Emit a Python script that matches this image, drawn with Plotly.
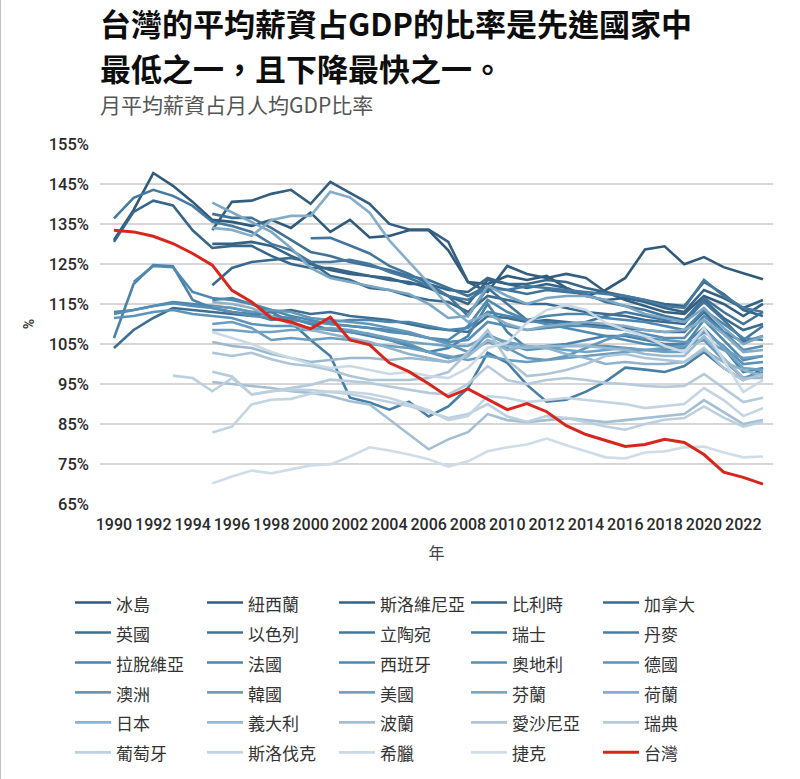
import plotly.graph_objects as go

years = list(range(1990, 2024))
N = None

names = ["冰島", "紐西蘭", "斯洛維尼亞", "比利時", "加拿大",
         "英國", "以色列", "立陶宛", "瑞士", "丹麥",
         "拉脫維亞", "法國", "西班牙", "奧地利", "德國",
         "澳洲", "韓國", "美國", "芬蘭", "荷蘭",
         "日本", "義大利", "波蘭", "愛沙尼亞", "瑞典",
         "葡萄牙", "斯洛伐克", "希臘", "捷克", "台灣"]

colors = ["#2f5a7b", "#335e80", "#366285", "#386689", "#3a6a8e",
          "#3d6e93", "#3f7297", "#42769c", "#4479a0", "#477ea5",
          "#4a82a9", "#4d86ad", "#5089b0", "#568eb4", "#5c93b8",
          "#6398bb", "#6a9dbe", "#72a2c1", "#7ba7c5", "#85adc9",
          "#8fb3cc", "#99b9d0", "#a3bfd4", "#adc5d8", "#b5cbdc",
          "#bcd0df", "#c3d5e2", "#c9d9e5", "#cedde8", "#d9261c"]

# values (%), 1990..2023
iceland = [131, 138.5, 147.7, 144.5, 140.5, 136, 135.5, 134.5, 136, 134, 137.8, 133, 136, 131.6, 132, 133.4, 133.4, 128.4, 120.5, 120, 122, 121, 122, 119, 117, 118.5, 121.5, 128.6, 129.4, 124.9, 126.7, 124.2, 122.7, 121.2]
new_zealand = [N, N, N, N, N, 133.5, 140.5, 140.8, 142.5, 143.5, 140, 145.5, 142.8, 140, 135, 133.6, 133.6, 130.5, 120.5, 118, 124.5, 122.5, 121.5, 122.5, 121.5, 118, 116, 114.5, 113, 112.5, 117, 115, 112, 115]
slovenia = [N, N, N, N, N, 130, 130, 130.5, 129.5, 127, 125, 123.5, 122.5, 122, 121, 120.5, 119, 117, 115, 121, 120, 119, 120, 119, 117, 116, 116.5, 115.5, 114, 113, 118.5, 116.5, 114, 116]
belgium = [130.5, 138, 140.8, 139.6, 133.4, 129, 129.5, 129.5, 127, 125, 124, 124, 123, 122, 121.5, 120, 120, 118.5, 118, 121.5, 120, 120, 121, 120.5, 119, 118, 117, 116, 115, 114.5, 120.5, 117.5, 113.5, 112]
canada = [N, N, N, N, N, 119.7, 124, 125.5, 126, 126.5, 125.5, 122, 121, 119, 118.5, 117, 116, 115.5, 113, 117, 116, 115, 115, 114, 113, 112.5, 112, 111, 110.5, 110, 116, 111.5, 108.5, 110]
uk = [104, 108.5, 111.5, 114, 113.5, 113, 112.5, 112, 113, 113.5, 112.5, 113, 112, 111.5, 111, 110, 109, 108.5, 108, 112, 111.5, 110.5, 111, 110.5, 110, 109.5, 109, 108.5, 108, 108, 113, 108, 105.5, 107]
israel = [N, N, N, N, N, 137.5, 136.5, 136.5, 134, 131, 128, 127, 125.5, 124.5, 123.5, 122, 121, 119, 117, 119.5, 118.5, 117.5, 118.5, 118, 117.5, 115.5, 114.5, 113.5, 112, 111, 116.5, 113, 110, 113]
lithuania = [N, N, N, N, N, N, N, N, N, N, 131.4, 131.5, 129.6, 127.6, 124.5, 122.5, 120, 117, 112, 119, 115, 111, 110.5, 110, 110.5, 112, 113, 112, 111, 111, 115.5, 111, 106, 109.5]
switzerland = [136.4, 141.5, 143.5, 142, 139.5, 135.5, 134.5, 133, 130, 128.5, 125.5, 125.5, 126, 125, 123, 121.5, 119.5, 117, 116, 119, 118.5, 119.5, 119, 118.5, 118, 117.5, 117, 116, 114.5, 114, 121, 117, 114, 113]
denmark = [N, N, N, N, N, 116, 116.5, 115, 113, 110.5, 106, 102, 91.6, 90.4, 88.6, 90.6, 86.9, 89.4, 94, 102.8, 100.3, 94.8, 90.6, 91.1, 93.1, 95.6, 99.1, 98.6, 98, 99.5, 103, 99, 96, 99]
latvia = [106.5, 120, 124.7, 124.4, 116, 114, 113, 112.5, 111, 111.5, 110, 108.5, 108, 107, 106, 104.5, 103, 104, 107, 115, 108, 104, 104.5, 105, 106, 107, 107, 106, 105, 105, 109, 104, 98, 99]
france = [113, 113.5, 114.5, 115.5, 115, 114.5, 114, 113, 112, 111.5, 110, 110.5, 111, 111, 110.5, 110.5, 109.5, 108.5, 109, 113, 112, 111, 112, 112.5, 112.5, 111.5, 111, 110.5, 109.5, 108.5, 113.5, 110, 106.5, 106]
spain = [N, 120.5, 124.5, 124.2, 118, 116.5, 116, 115, 113.5, 112, 111, 110, 109.5, 109, 108.5, 107.5, 106.5, 106, 109.5, 116, 113, 111, 110, 109, 108, 107, 106, 105, 104.5, 104.5, 111, 106, 101, 102]
austria = [112.5, 113.5, 114.5, 115.2, 114.5, 114, 113, 112, 111.5, 111, 110.5, 110, 109.5, 109, 108, 107.5, 106.5, 105.5, 106, 110.5, 109.5, 108.5, 109, 109.5, 109.5, 109, 108.5, 107.5, 106.5, 106.5, 112, 108, 103.5, 104.5]
germany = [111.5, 112, 113, 113.5, 112.5, 112, 111.5, 110, 109.5, 109.5, 109, 108.5, 108, 107.5, 106, 105, 103, 101.5, 102.5, 107.5, 105, 103.5, 104, 104.5, 104.5, 104.5, 104, 103.5, 103.5, 104, 108, 104.5, 100, 100.5]
australia = [N, N, N, N, N, 114.5, 114, 113, 113.5, 113, 111.5, 111, 110.5, 110, 109, 108, 106.5, 105, 103, 105.5, 104, 101.5, 101, 102, 104, 106, 107.5, 106.5, 106, 105.5, 106, 101, 96.5, 98]
korea = [N, N, N, N, N, 110, 110.5, 109, 106, 106.5, 106, 106.5, 106, 105, 104.5, 104, 103, 102, 101, 102, 101, 100.5, 101, 101.5, 102, 102.5, 103, 103.5, 104, 104.5, 106, 103.5, 101.5, 102]
usa = [N, N, N, N, N, 108.5, 108.5, 108, 108, 108.5, 108.5, 109, 108.5, 107.5, 106.5, 105.5, 105, 104.5, 104.5, 107, 105.5, 104.5, 104, 103.5, 103, 103.5, 104, 103.5, 103, 103, 108.5, 104, 99, 98.5]
finland = [N, N, N, N, N, 140.3, 137.8, 135.4, 133, 129, 124, 121.5, 120.5, 119.5, 118.5, 117.5, 115, 111.5, 112, 119.5, 117, 115, 116.5, 117, 117, 116, 114.5, 112.5, 111.5, 110.5, 114, 109, 105, 107]
netherlands = [N, N, N, N, N, 134, 133.5, 132, 136, 137, 137, 143, 141.6, 137.8, 130.9, 125.5, 120.2, 114.5, 110.5, 112.5, 110, 108.5, 109.5, 110, 110.5, 110, 109.5, 108.5, 108, 108.5, 111, 107.5, 103, 103.5]
japan = [N, N, N, N, N, 115.5, 115, 114, 112, 110, 108.5, 107.5, 106.5, 105.5, 104, 102.5, 101.5, 100.5, 102, 106, 103.5, 104.5, 104, 102.5, 101.5, 100, 100.5, 100, 100, 100.5, 103.5, 100.5, 98.5, 97]
italy = [N, N, N, N, N, 105.5, 104.5, 104, 102.5, 101.5, 100.5, 101, 101.5, 101.5, 101, 101.5, 101, 100.5, 102, 106, 104.5, 104, 104.5, 104.5, 104.5, 104, 103.5, 102.5, 102, 102, 107, 101.5, 96.5, 96.5]
poland = [N, N, N, N, N, 95.5, 95, 94.5, 94, 93.2, 92.8, 92, 90.7, 89.9, 86.1, 82.4, 78.7, 81.2, 83, 87.5, 86, 85.5, 86, 86.5, 86, 85.5, 86, 86.5, 87, 87.5, 91, 88, 85, 86]
estonia = [N, N, N, N, N, 102.8, 102, 102.8, 101.2, 100, 99.5, 98.5, 97, 96, 96, 96, 96.5, 98, 103, 108.5, 101, 97, 97.5, 98.5, 100, 102, 102.5, 101.5, 101, 100.5, 104, 99, 96, 97.5]
sweden = [N, N, N, N, N, 98.1, 96.9, 92.4, 93.2, 94, 94.8, 96.1, 95.7, 95.3, 94.4, 93.6, 92.8, 92.4, 95, 99.5, 96, 95, 96, 96.5, 96, 95.3, 95, 94.5, 94.3, 94.5, 97.5, 94, 90.5, 91.6]
portugal = [N, N, N, 97.1, 96.5, 93.2, 96.5, 92.4, 93.2, 93.6, 93.5, 93, 92.5, 91.5, 90.5, 89.5, 88, 86.5, 87.5, 90, 86.9, 85.6, 87, 86.5, 85.5, 84.4, 83.6, 85, 86.1, 86.5, 89.4, 86.6, 84.4, 85.6]
slovakia = [N, N, N, N, N, 82.9, 84.4, 89.9, 91.1, 91.3, 92.6, 93.1, 93, 92.5, 91.5, 90, 88.5, 86, 87, 92, 91.5, 90.5, 91, 91.5, 91, 90.5, 90, 89, 89.5, 90, 94, 91, 87, 89]
greece = [N, N, N, N, N, 108, 106.5, 105, 103, 101.5, 100, 99, 99.5, 98.5, 97.5, 98, 97, 96.5, 99, 104, 105.3, 110.3, 113.5, 114.7, 113.5, 110.3, 108.5, 107, 104.5, 103, 109, 101, 93, 96]
czechia = [N, N, N, N, N, 70.2, 71.9, 73.4, 72.7, 73.7, 74.7, 74.9, 76.9, 79.2, 78.4, 77.4, 76.2, 74.4, 75.7, 78.2, 79.2, 79.9, 81.4, 79.7, 78.2, 76.7, 76.4, 77.9, 78.2, 79.2, 79.4, 77.9, 76.7, 76.9]
taiwan = [133.4, 133, 131.9, 130.1, 127.6, 124.7, 118.4, 115.5, 111.5, 110.5, 108.8, 111.7, 106, 104.8, 100.3, 98.1, 95.1, 91.8, 93.8, 91.3, 88.6, 90.1, 88.1, 84.6, 82.4, 80.9, 79.4, 79.9, 81.2, 80.4, 77.4, 73.0, 71.7, 70.0]

series = [iceland, new_zealand, slovenia, belgium, canada,
          uk, israel, lithuania, switzerland, denmark,
          latvia, france, spain, austria, germany,
          australia, korea, usa, finland, netherlands,
          japan, italy, poland, estonia, sweden,
          portugal, slovakia, greece, czechia, taiwan]

y_ticks = [65, 75, 85, 95, 105, 115, 125, 135, 145, 155]
x_ticks = list(range(1990, 2023, 2))

title_line1 = "台灣的平均薪資占GDP的比率是先進國家中"
title_line2 = "最低之一，且下降最快之一。"
subtitle = "月平均薪資占月人均GDP比率"

CJK = "Noto Sans CJK TC"
NUM = "Roboto"

fig = go.Figure()
for name, vals, col in zip(names, series, colors):
    fig.add_trace(go.Scatter(
        x=years, y=vals, mode="lines",
        name='<span style="font-size:17px">' + name + "</span>",
        line=dict(color=col, width=3.0 if name == "台灣" else 2.6),
        connectgaps=False,
    ))

fig.update_layout(
    width=800, height=779,
    margin=dict(l=100, r=27, t=143, b=274, autoexpand=False),
    paper_bgcolor="white", plot_bgcolor="white",
    showlegend=True,
    legend=dict(
        orientation="h", xref="container", yref="container",
        x=0.0875, xanchor="left", y=1 - 582.5 / 779, yanchor="top",
        font=dict(family=CJK, size=20.75, color="#333333"),
        entrywidth=81, entrywidthmode="pixels",
        itemwidth=36, tracegroupgap=0,
        bgcolor="rgba(0,0,0,0)",
    ),
    annotations=[
        dict(text="<b>" + title_line1 + "</b>", xref="paper", yref="paper",
             x=-0.003, y=1 + (143 - 22) / 362, xanchor="left", yanchor="middle",
             showarrow=False, font=dict(family=CJK, size=31, color="#0d0d0d")),
        dict(text="<b>" + title_line2 + "</b>", xref="paper", yref="paper",
             x=-0.003, y=1 + (143 - 67) / 362, xanchor="left", yanchor="middle",
             showarrow=False, font=dict(family=CJK, size=31, color="#0d0d0d")),
        dict(text=subtitle, xref="paper", yref="paper",
             x=-0.003, y=1 + (143 - 104) / 362, xanchor="left", yanchor="middle",
             showarrow=False, font=dict(family=CJK, size=21, color="#555555")),
    ],
    shapes=[
        dict(type="line", xref="paper", yref="paper",
             x0=-100.5 / 673, x1=-100.5 / 673, y0=-274 / 362, y1=1 + 143 / 362,
             line=dict(color="#8a8a8a", width=2)),
    ],
)

fig.update_xaxes(
    range=[1989.29, 2023.51], tickvals=x_ticks, ticktext=[str(v) for v in x_ticks],
    showgrid=False, zeroline=False, showline=False, ticks="", tickangle=0,
    tickfont=dict(family=NUM, size=16, color="#2a2a2a", weight=500),
    ticklabelstandoff=8, automargin=False,
    title=dict(text="年", font=dict(family=CJK, size=16, color="#444444"), standoff=14),
)
fig.update_yaxes(
    range=[64.8, 155.2], tickvals=y_ticks, ticktext=[f"{v}%" for v in y_ticks],
    showgrid=True, gridcolor="#d6d6d6", gridwidth=1.5, zeroline=False, showline=False, ticks="",
    tickfont=dict(family=NUM, size=16.5, color="#2a2a2a", weight=500),
    ticklabelstandoff=10, automargin=False,
    title=dict(text="%", font=dict(family=NUM, size=14, color="#333333", weight=600), standoff=10),
)

fig.write_html("out.html")
